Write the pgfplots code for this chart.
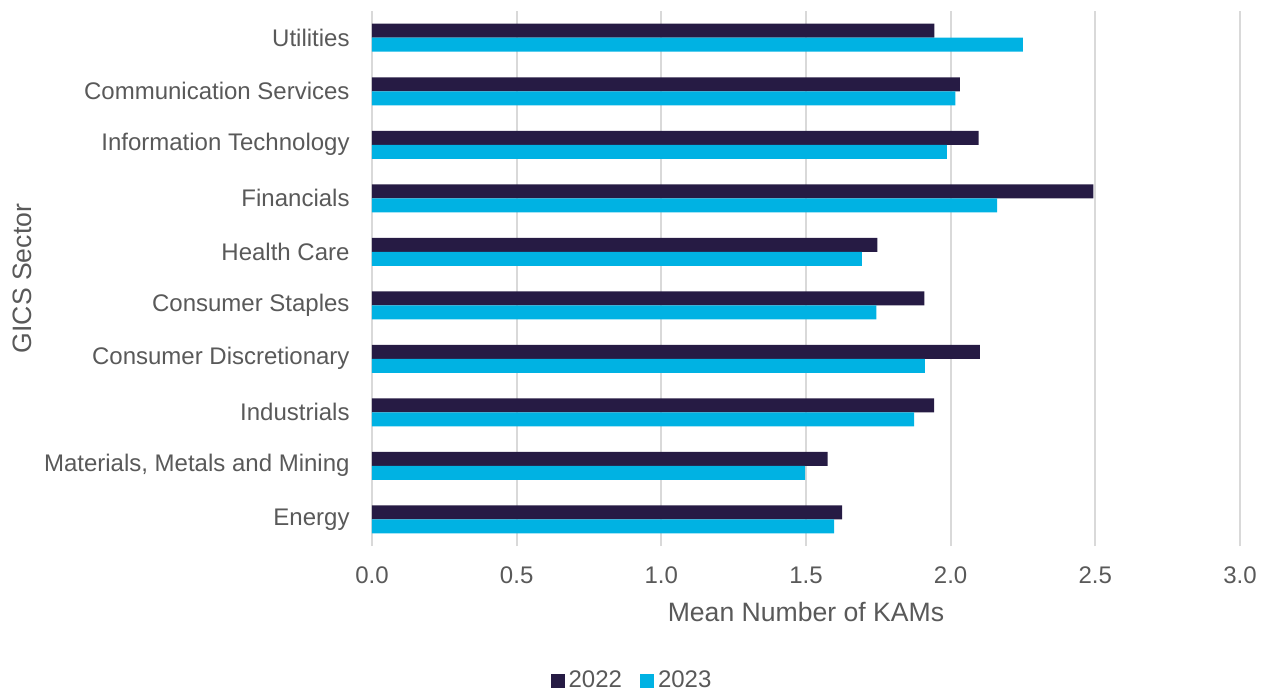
\documentclass[border=0pt]{standalone}
\usepackage{pgfplots}
\pgfplotsset{compat=1.18}
\usepackage{fontspec}
\setmainfont{Liberation Sans}
\definecolor{c22}{RGB}{38,27,68}
\definecolor{c23}{RGB}{0,178,227}
\definecolor{txt}{RGB}{89,89,89}
\definecolor{grd}{RGB}{217,217,217}
\begin{document}
\begin{tikzpicture}
\useasboundingbox (0,0) rectangle (635pt,346.5pt);
\begin{axis}[
  at={(186pt,73.5pt)}, anchor=south west,
  scale only axis, width=434pt, height=267.5pt,
  xmin=0, xmax=3, ymin=-0.5, ymax=9.5,
  xbar, bar width=7pt,
  axis line style={draw=none},
  major tick length=0pt,
  xtick={0,0.5,...,3}, ytick={0,...,9},
  yticklabels={Energy,{Materials, Metals and Mining},Industrials,Consumer Discretionary,Consumer Staples,Health Care,Financials,Information Technology,Communication Services,Utilities},
  xmajorgrids, ymajorgrids=false,
  major grid style={draw=grd, line width=1pt},
  /pgf/number format/assume math mode=true,
  xticklabel style={/pgf/number format/fixed, /pgf/number format/fixed zerofill, /pgf/number format/precision=1, anchor=center, yshift=-14.5pt},
  ticklabel style={font=\fontsize{12}{14}\selectfont, text=txt},
  yticklabel style={anchor=east, xshift=-7.7pt},
  xlabel={Mean Number of KAMs}, ylabel={GICS Sector},
  label style={font=\fontsize{13.3}{15}\selectfont, text=txt},
  xlabel style={at={(axis description cs:0.5,-0.123)}, anchor=center},
  ylabel style={at={(axis description cs:-0.403,0.5)}, anchor=center},
  legend style={at={(axis description cs:0.3007,-0.252)}, anchor=center, legend columns=2, draw=none, font=\fontsize{12}{14}\selectfont, text=txt, /tikz/every even column/.append style={column sep=7pt}},
  legend image code/.code={\fill[#1] (1.5pt,-3.5pt) rectangle (8.5pt,3.5pt);},
]
\addplot[fill=c22, draw=none, bar shift=3.5pt] coordinates {
(1.625,0) (1.575,1) (1.943,2) (2.101,3) (1.909,4) (1.747,5) (2.493,6) (2.097,7) (2.032,8) (1.944,9)};
\addplot[fill=c23, draw=none, bar shift=-3.5pt] coordinates {
(1.597,0) (1.497,1) (1.874,2) (1.911,3) (1.743,4) (1.693,5) (2.161,6) (1.987,7) (2.016,8) (2.250,9)};
\legend{2022,2023}
\end{axis}
\end{tikzpicture}
\end{document}
